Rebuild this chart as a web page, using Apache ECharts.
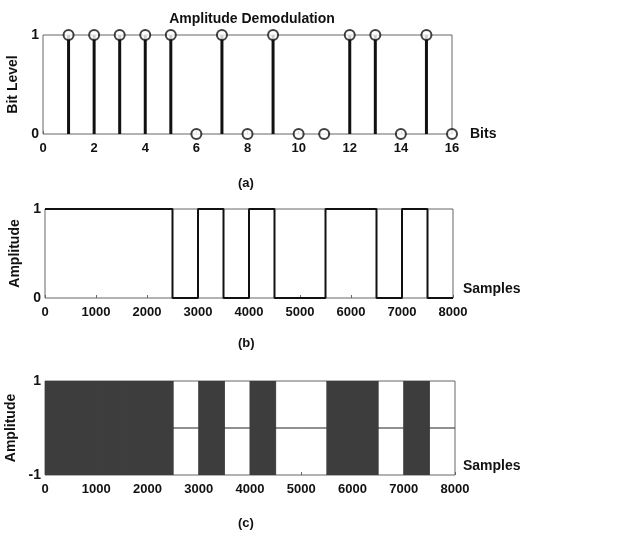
<!DOCTYPE html>
<html lang="en">
  <head>
    <meta charset="UTF-8" />
    <title>Amplitude Demodulation</title>
    <style>
      * {
        padding: 0;
        margin: 0;
      }
      body {
        background: #fff;
      }
      #chart {
        width: 634px;
        height: 536px;
      }
    </style>
    <script src="https://cdn.jsdelivr.net/npm/echarts@6/dist/echarts.min.js"></script>
  </head>
  <body>
    <div id="chart"></div>
  </body>
  <script>
    // transmitted bits (panel a), one per bit position 1..16
    const bitPositions = [1, 2, 3, 4, 5, 6, 7, 8, 9, 10, 11, 12, 13, 14, 15, 16];
    const bitLevels = [1, 1, 1, 1, 1, 0, 1, 0, 1, 0, 0, 1, 1, 0, 1, 0];
    // each bit spans this many samples in panels b and c
    const samplesPerBit = 500;

    const font = "'Liberation Sans', Arial, sans-serif";
    const ink = "#111";

    const chart = echarts.init(document.getElementById("chart"));

    // demodulated step signal: sample index where each bit starts
    const stepData = bitLevels.map((b, i) => [i * samplesPerBit, b]);
    stepData.push([bitLevels.length * samplesPerBit, bitLevels[bitLevels.length - 1]]);

    const labelStyle = {
      color: ink,
      fontFamily: font,
      fontWeight: "bold",
      fontSize: 13,
    };
    const nameStyle = {
      color: ink,
      fontFamily: font,
      fontWeight: "bold",
      fontSize: 14,
    };

    function xAxisFor(gridIndex, max, interval, name, nameGap, lift) {
      return {
        type: "value",
        gridIndex: gridIndex,
        min: 0,
        max: max,
        interval: interval,
        name: name,
        nameLocation: "end",
        nameGap: nameGap,
        nameTextStyle: Object.assign({}, nameStyle, {
          verticalAlign: lift ? "bottom" : "middle",
          padding: lift ? [0, 0, 2, 0] : 0,
        }),
        axisLine: { show: false, onZero: false },
        axisTick: { show: true, inside: true, length: 3, lineStyle: { color: "#666" } },
        axisLabel: Object.assign({ margin: 8, formatter: (v) => String(v) }, labelStyle),
        splitLine: { show: false },
      };
    }

    function yAxisFor(gridIndex, min, name, nameGap) {
      return {
        type: "value",
        gridIndex: gridIndex,
        min: min,
        max: 1,
        interval: 1,
        name: name,
        nameLocation: "middle",
        nameGap: nameGap,
        nameTextStyle: nameStyle,
        axisLine: { show: false, onZero: false },
        axisTick: { show: false },
        axisLabel: Object.assign({}, labelStyle, {
          fontSize: 14,
          margin: 4,
          formatter: (v) => (min < 0 && v === 0 ? "" : String(v)),
        }),
        splitLine: { show: false },
      };
    }

    const gridBase = {
      show: true,
      borderColor: "#666",
      borderWidth: 1,
      backgroundColor: "#fff",
      containLabel: false,
      outerBoundsMode: "none",
    };

    const option = {
      backgroundColor: "#fff",
      animation: false,
      title: {
        text: "Amplitude Demodulation",
        left: 247,
        top: 7,
        textAlign: "center",
        textStyle: { color: ink, fontFamily: font, fontWeight: "bold", fontSize: 14 },
      },
      grid: [
        Object.assign({ left: 43, top: 35, width: 409, height: 99 }, gridBase),
        Object.assign({ left: 45, top: 209, width: 408, height: 89 }, gridBase),
        Object.assign({ left: 45, top: 381, width: 410, height: 94 }, gridBase),
      ],
      xAxis: [
        xAxisFor(0, 16, 2, "Bits", 18, false),
        xAxisFor(1, 8000, 1000, "Samples", 10, true),
        xAxisFor(2, 8000, 1000, "Samples", 8, true),
      ],
      yAxis: [
        yAxisFor(0, 0, "Bit Level", 15),
        yAxisFor(1, 0, "Amplitude", 20),
        yAxisFor(2, -1, "Amplitude", 20),
      ],
      graphic: [
        { type: "text", left: 238, top: 177, style: { text: "(a)", fill: ink, font: "bold 13px " + font } },
        { type: "text", left: 238, top: 337, style: { text: "(b)", fill: ink, font: "bold 13px " + font } },
        { type: "text", left: 238, top: 517, style: { text: "(c)", fill: ink, font: "bold 13px " + font } },
      ],
      series: [
        {
          // stems
          type: "bar",
          xAxisIndex: 0,
          yAxisIndex: 0,
          barWidth: 3,
          itemStyle: { color: "#111" },
          data: bitPositions.map((p, i) => [p, bitLevels[i]]),
          z: 2,
        },
        {
          // stem heads
          type: "scatter",
          xAxisIndex: 0,
          yAxisIndex: 0,
          symbol: "emptyCircle",
          symbolSize: 10,
          itemStyle: { color: "#111", borderColor: "#111", borderWidth: 2 },
          data: bitPositions.map((p, i) => [p, bitLevels[i]]),
          z: 3,
        },
        {
          type: "line",
          xAxisIndex: 1,
          yAxisIndex: 1,
          step: "end",
          showSymbol: false,
          lineStyle: { color: "#111", width: 2 },
          data: stepData,
        },
        {
          // modulated carrier: solid band where bit is 1, flat zero where 0
          type: "custom",
          xAxisIndex: 2,
          yAxisIndex: 2,
          clip: true,
          data: bitLevels.map((b, i) => [i * samplesPerBit, (i + 1) * samplesPerBit, b]),
          renderItem: function (params, api) {
            const p0 = api.coord([api.value(0), 1]);
            const p1 = api.coord([api.value(1), -1]);
            if (api.value(2) === 1) {
              return {
                type: "rect",
                shape: { x: p0[0], y: p0[1], width: p1[0] - p0[0], height: p1[1] - p0[1] },
                style: { fill: "#3d3d3d", stroke: "#3d3d3d", lineWidth: 1 },
              };
            }
            const z = api.coord([api.value(0), 0]);
            return {
              type: "line",
              shape: { x1: p0[0], y1: z[1], x2: p1[0], y2: z[1] },
              style: { stroke: "#222", lineWidth: 1 },
            };
          },
        },
      ],
    };

    chart.setOption(option);
  </script>
</html>
